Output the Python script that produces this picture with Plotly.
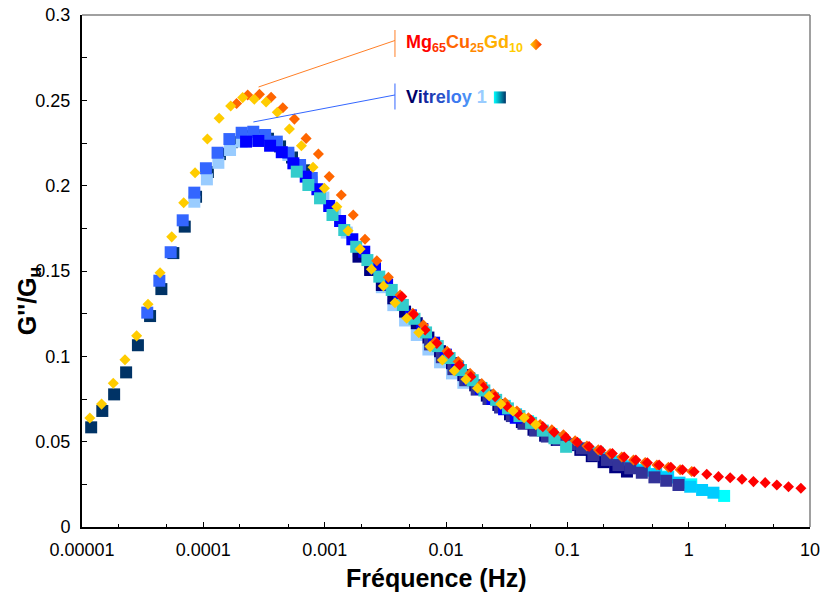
import plotly.graph_objects as go

# ---------------- data ----------------
# Mg65Cu25Gd10 - gold diamonds
mg_gold_f = [1.16e-5, 1.45e-5, 1.81e-5, 2.26e-5, 2.82e-5, 3.50e-5, 4.40e-5, 5.49e-5, 6.89e-5, 8.55e-5,
             1.08e-4, 1.35e-4, 1.68e-4, 2.11e-4, 2.63e-4, 3.29e-4, 4.07e-4, 5.12e-4, 6.43e-4, 8.02e-4,
             9.95e-4, 1.26e-3, 1.56e-3, 1.96e-3, 2.43e-3, 3.05e-3, 3.80e-3, 4.75e-3, 5.97e-3, 7.39e-3,
             9.34e-3, 1.17e-2, 1.46e-2, 1.82e-2, 2.27e-2, 2.83e-2, 3.56e-2, 4.41e-2, 5.50e-2]
mg_gold_g = [0.0639, 0.072, 0.0842, 0.098, 0.112, 0.1305, 0.149, 0.170, 0.190, 0.2076,
             0.2273, 0.2395, 0.2467, 0.2516, 0.2506, 0.249, 0.243, 0.2332, 0.2234, 0.2108,
             0.1985, 0.1877, 0.1736, 0.1629, 0.151, 0.1412, 0.1314, 0.1223, 0.1139, 0.1057,
             0.0978, 0.0916, 0.0865, 0.0813, 0.0768, 0.072, 0.068, 0.064, 0.060]

# Mg65Cu25Gd10 - orange diamonds
mg_orange_f = [1.88e-4, 2.32e-4, 2.90e-4, 3.62e-4, 4.52e-4, 5.63e-4, 7.03e-4, 8.88e-4, 1.09e-3, 1.37e-3,
               1.72e-3, 2.15e-3, 2.69e-3, 3.35e-3, 4.19e-3, 5.33e-3, 6.51e-3, 8.13e-3, 1.02e-2, 1.26e-2,
               1.58e-2, 1.97e-2, 2.46e-2, 3.07e-2, 3.84e-2, 4.78e-2, 5.97e-2, 7.45e-2, 9.29e-2, 0.116,
               0.145, 0.180, 0.225, 0.281, 0.351, 0.438, 0.547, 0.681, 0.851, 1.06]
mg_orange_g = [0.2482, 0.2531, 0.2535, 0.2518, 0.2457, 0.239, 0.2277, 0.2185, 0.2053, 0.1945,
               0.1828, 0.1686, 0.156, 0.1463, 0.1359, 0.1252, 0.1184, 0.1086, 0.103, 0.097,
               0.090, 0.084, 0.078, 0.073, 0.068, 0.064, 0.060, 0.057, 0.054, 0.0505,
               0.0475, 0.0452, 0.0430, 0.0410, 0.0393, 0.0378, 0.0363, 0.0350, 0.0336, 0.0325]

# Mg65Cu25Gd10 - red diamonds
mg_red_f = [4.32e-3, 5.39e-3, 6.73e-3, 8.40e-3, 1.05e-2, 1.29e-2, 1.60e-2, 2.03e-2, 2.54e-2, 3.21e-2,
            4.01e-2, 5.00e-2, 6.28e-2, 7.78e-2, 9.72e-2, 0.121, 0.151, 0.189, 0.235, 0.294,
            0.367, 0.457, 0.571, 0.713, 0.889, 1.11, 1.41, 1.76, 2.20, 2.75,
            3.42, 4.27, 5.33, 6.65, 8.41]
mg_red_g = [0.135, 0.1245, 0.1154, 0.1076, 0.1017, 0.0949, 0.0881, 0.0819, 0.0763, 0.0705,
            0.0656, 0.0627, 0.0588, 0.0555, 0.0525, 0.0497, 0.0472, 0.0450, 0.0430, 0.0410,
            0.0393, 0.0377, 0.0363, 0.0350, 0.0336, 0.0324, 0.0309, 0.0295, 0.0289, 0.028,
            0.0266, 0.026, 0.0246, 0.0236, 0.0227]

# Vitreloy 1 - dark navy squares
vit_darknavy_f = [1.19e-5, 1.47e-5, 1.84e-5, 2.31e-5, 2.89e-5, 3.64e-5, 4.51e-5, 5.66e-5, 7.03e-5, 8.71e-5,
                  1.09e-4, 1.37e-4, 1.72e-4, 2.17e-4, 2.72e-4, 3.41e-4, 4.29e-4, 5.38e-4, 6.76e-4]
vit_darknavy_g = [0.0584, 0.068, 0.0777, 0.0906, 0.1065, 0.1236, 0.1394, 0.1605, 0.176, 0.1935,
                  0.208, 0.2185, 0.2255, 0.229, 0.229, 0.2275, 0.223, 0.2165, 0.209]

# Vitreloy 1 - light blue squares
vit_lightblue_f = [8.43e-5, 1.07e-4, 1.33e-4, 1.66e-4, 2.07e-4, 2.58e-4, 3.23e-4, 4.03e-4, 5.02e-4, 6.27e-4,
                   7.83e-4, 9.75e-4, 1.22e-3, 1.52e-3, 1.90e-3, 2.37e-3, 2.96e-3, 3.68e-3, 4.60e-3, 5.74e-3,
                   7.16e-3, 8.93e-3, 1.12e-2, 1.39e-2]
vit_lightblue_g = [0.1906, 0.2037, 0.2134, 0.2209, 0.2258, 0.2275, 0.227, 0.224, 0.218, 0.2105,
                   0.202, 0.193, 0.183, 0.1725, 0.1615, 0.151, 0.1405, 0.130, 0.121, 0.1125,
                   0.104, 0.0965, 0.090, 0.0845]

# Vitreloy 1 - royal blue squares
vit_royal_f = [3.45e-5, 4.34e-5, 5.38e-5, 6.76e-5, 8.43e-5, 1.05e-4, 1.31e-4, 1.64e-4, 2.07e-4, 2.58e-4,
               3.23e-4, 4.03e-4, 5.02e-4, 6.27e-4, 7.83e-4]
vit_royal_g = [0.1256, 0.1443, 0.161, 0.1797, 0.1959, 0.2102, 0.2193, 0.2273, 0.231, 0.2316,
               0.2297, 0.2258, 0.2193, 0.2121, 0.2045]

# Vitreloy 1 - cyan squares
vit_cyan_f = [1.26e-2, 1.96e-2, 3.05e-2, 4.75e-2, 7.40e-2, 0.115, 0.179, 0.279, 0.435, 0.678, 1.05, 1.96]
vit_cyan_g = [0.094, 0.0815, 0.071, 0.062, 0.0545, 0.0485, 0.0435, 0.0385, 0.0335, 0.0295, 0.025, 0.0182]

# Vitreloy 1 - sky blue squares
vit_sky_f = [1.00e-2, 1.25e-2, 1.56e-2, 1.95e-2, 2.43e-2, 3.03e-2, 3.78e-2, 4.72e-2, 5.89e-2, 7.35e-2,
             9.18e-2, 0.115, 0.143, 0.178, 0.222, 0.278, 0.347, 0.432, 0.540, 0.674,
             0.840, 1.03, 1.29, 1.60]
vit_sky_g = [0.1005, 0.0935, 0.087, 0.081, 0.0755, 0.0705, 0.066, 0.0615, 0.0575, 0.054,
             0.051, 0.048, 0.0455, 0.043, 0.0405, 0.038, 0.0355, 0.033, 0.031, 0.029,
             0.026, 0.0236, 0.0217, 0.0201]

# Vitreloy 1 - navy squares
vit_navy_f = [1.90e-3, 2.37e-3, 2.96e-3, 3.68e-3, 4.60e-3, 5.74e-3, 7.16e-3, 8.93e-3, 1.12e-2, 1.39e-2,
              1.74e-2, 2.17e-2, 2.70e-2, 3.37e-2, 4.22e-2, 5.26e-2, 6.56e-2, 8.18e-2, 0.102, 0.128,
              0.159, 0.199, 0.248, 0.310]
vit_navy_g = [0.1584, 0.1506, 0.1418, 0.134, 0.1262, 0.1194, 0.111, 0.103, 0.096, 0.089,
              0.083, 0.077, 0.0715, 0.066, 0.0615, 0.057, 0.0535, 0.051, 0.048, 0.0452,
              0.0415, 0.038, 0.035, 0.0325]

# Vitreloy 1 - dark slate blue squares
vit_slate_f = [7.39e-3, 9.24e-3, 1.15e-2, 1.44e-2, 1.79e-2, 2.24e-2, 2.79e-2, 3.49e-2, 4.35e-2, 5.43e-2,
               6.78e-2, 8.45e-2, 0.105, 0.132, 0.164, 0.212, 0.264, 0.330, 0.411, 0.522,
               0.653, 0.824]
vit_slate_g = [0.107, 0.0995, 0.0925, 0.086, 0.0805, 0.075, 0.070, 0.065, 0.0605, 0.0565,
               0.053, 0.051, 0.0485, 0.0461, 0.0422, 0.0393, 0.0363, 0.0344, 0.0318, 0.0291,
               0.0271, 0.0246]

# Vitreloy 1 - blue squares
vit_blue_f = [2.25e-4, 2.84e-4, 3.55e-4, 4.43e-4, 5.52e-4, 6.98e-4, 8.71e-4, 1.09e-3, 1.34e-3, 1.69e-3,
              2.12e-3, 2.60e-3, 3.27e-3, 4.10e-3, 5.13e-3, 6.38e-3, 7.98e-3, 9.96e-3, 1.24e-2, 1.55e-2,
              1.94e-2, 2.42e-2, 3.01e-2, 3.76e-2]
vit_blue_g = [0.2258, 0.2262, 0.2234, 0.2196, 0.2131, 0.2053, 0.1979, 0.1881, 0.1793, 0.1686,
              0.1613, 0.1516, 0.142, 0.133, 0.124, 0.116, 0.108, 0.101, 0.094, 0.087,
              0.081, 0.075, 0.069, 0.064]

# Vitreloy 1 - turquoise squares
vit_turq_f = [5.89e-4, 7.34e-4, 9.16e-4, 1.16e-3, 1.45e-3, 1.82e-3, 2.25e-3, 2.82e-3, 3.57e-3, 4.41e-3,
              5.50e-3, 6.85e-3, 8.55e-3, 1.07e-2, 1.33e-2, 1.66e-2, 2.07e-2, 2.59e-2, 3.24e-2, 4.03e-2,
              5.03e-2, 6.28e-2, 7.83e-2, 9.77e-2]
vit_turq_g = [0.2082, 0.2004, 0.1926, 0.1828, 0.174, 0.1642, 0.1564, 0.1467, 0.1389, 0.1301,
              0.122, 0.114, 0.106, 0.099, 0.092, 0.086, 0.080, 0.0745, 0.0695, 0.065,
              0.061, 0.0565, 0.052, 0.047]

x_tick_vals = [1e-5, 1e-4, 1e-3, 1e-2, 1e-1, 1, 10]
x_tick_text = ["0.00001", "0.0001", "0.001", "0.01", "0.1", "1", "10"]
y_tick_vals = [0, 0.05, 0.1, 0.15, 0.2, 0.25, 0.3]
y_tick_text = ["0", "0.05", "0.1", "0.15", "0.2", "0.25", "0.3"]

# ---------------- figure ----------------
FONT = "Arial, 'Liberation Sans', sans-serif"
fig = go.Figure()

SQ = 12
DI = 8.5
square_series = [
    (vit_darknavy_f, vit_darknavy_g, "#003366"),
    (vit_lightblue_f, vit_lightblue_g, "#99CCFF"),
    (vit_royal_f, vit_royal_g, "#3366FF"),
    (vit_cyan_f, vit_cyan_g, "#00FFFF"),
    (vit_sky_f, vit_sky_g, "#00CCFF"),
    (vit_navy_f, vit_navy_g, "#000080"),
    (vit_slate_f, vit_slate_g, "#333399"),
    (vit_blue_f, vit_blue_g, "#0000FF"),
    (vit_turq_f, vit_turq_g, "#33CCCC"),
]
for fx, gy, col in square_series:
    fig.add_trace(go.Scatter(x=fx, y=gy, mode="markers",
                             marker=dict(symbol="square", size=SQ, color=col, line=dict(width=0)),
                             showlegend=False, hoverinfo="skip"))

diamond_series = [
    (mg_orange_f, mg_orange_g, "#FF6600"),
    (mg_red_f, mg_red_g, "#FF0000"),
    (mg_gold_f, mg_gold_g, "#FFCC00"),
]
for fx, gy, col in diamond_series:
    fig.add_trace(go.Scatter(x=fx, y=gy, mode="markers",
                             marker=dict(symbol="diamond", size=DI, color=col, line=dict(width=0)),
                             showlegend=False, hoverinfo="skip"))

# legend-like key markers (on an overlay 0..1 axis)
fig.add_trace(go.Scatter(x=[0.6236], y=[0.9424], xaxis="x2", yaxis="y2", mode="markers",
                         marker=dict(symbol="diamond", size=9, color="#FFCC00",
                                     gradient=dict(type="horizontal", color="#FF3300"),
                                     line=dict(width=0)),
                         showlegend=False, hoverinfo="skip"))
fig.add_trace(go.Scatter(x=[0.574], y=[0.839], xaxis="x2", yaxis="y2", mode="markers",
                         marker=dict(symbol="square", size=12, color="#00FFFF",
                                     gradient=dict(type="horizontal", color="#003366"),
                                     line=dict(width=0)),
                         showlegend=False, hoverinfo="skip"))

fig.update_layout(
    width=823, height=594,
    margin=dict(l=82, r=13, t=15, b=67, autoexpand=False),
    paper_bgcolor="white", plot_bgcolor="white",
    font=dict(family=FONT, color="black"),
    xaxis=dict(type="log", range=[-5, 1], tickvals=x_tick_vals, ticktext=x_tick_text,
               ticks="inside", ticklen=5, tickwidth=1, tickcolor="black",
               minor=dict(ticks="inside", ticklen=3, tickcolor="black", showgrid=False),
               showline=True, linecolor="black", linewidth=2, showgrid=False, zeroline=False,
               tickfont=dict(size=18, family=FONT), ticklabelstandoff=5, automargin=False,
               ticklabeloverflow="allow"),
    yaxis=dict(range=[0, 0.3], tickvals=y_tick_vals, ticktext=y_tick_text,
               ticks="inside", ticklen=5, tickwidth=1, tickcolor="black",
               minor=dict(dtick=0.025, tick0=0, ticks="inside", ticklen=5, tickcolor="black", showgrid=False),
               showline=True, linecolor="black", linewidth=2, showgrid=False, zeroline=False,
               tickfont=dict(size=18, family=FONT), ticklabelstandoff=6, automargin=False,
               ticklabeloverflow="allow"),
    xaxis2=dict(range=[0, 1], overlaying="x", visible=False, fixedrange=True),
    yaxis2=dict(range=[0, 1], overlaying="y", visible=False, fixedrange=True),
)

# gray frame on top and right
fig.add_shape(type="line", xref="paper", yref="paper", x0=0, x1=1, y0=1, y1=1,
              line=dict(color="#808080", width=1.5), layer="above")
fig.add_shape(type="line", xref="paper", yref="paper", x0=1, x1=1, y0=0, y1=1,
              line=dict(color="#808080", width=1.5), layer="above")

# leader lines
fig.add_shape(type="line", xref="paper", yref="paper", x0=0.2425, y0=0.8594, x1=0.4299, y1=0.9502,
              line=dict(color="#FF7F27", width=1))
fig.add_shape(type="line", xref="paper", yref="paper", x0=0.4299, y0=0.9707, x1=0.4299, y1=0.918,
              line=dict(color="#FF7F27", width=1))
fig.add_shape(type="line", xref="paper", yref="paper", x0=0.2354, y0=0.7911, x1=0.4299, y1=0.8438,
              line=dict(color="#3366FF", width=1))
fig.add_shape(type="line", xref="paper", yref="paper", x0=0.4299, y0=0.8662, x1=0.4299, y1=0.8154,
              line=dict(color="#3366FF", width=1))

mg_text = ("<b><span style='color:#FF0000'>Mg</span>"
           "<sub><span style='color:#FF3300'>65</span></sub>"
           "<span style='color:#FF6600'>Cu</span>"
           "<sub><span style='color:#FF8800'>25</span></sub>"
           "<span style='color:#FFB000'>Gd</span>"
           "<sub><span style='color:#FFCC00'>10</span></sub></b>")
vit_chars = [("V", "#000066"), ("i", "#0A1A8C"), ("t", "#1428A0"), ("r", "#1E3CB4"),
             ("e", "#2850C8"), ("l", "#3264DC"), ("o", "#3C7AF0"), ("y", "#4A90F5"),
             ("\u00a0", "#FFFFFF"), ("1", "#99CCFF")]
vit_text = "<b>" + "".join(f"<span style='color:{c}'>{ch}</span>" for ch, c in vit_chars) + "</b>"

fig.add_annotation(text=mg_text, xref="paper", yref="paper", x=0.4423, y=0.945,
                   xanchor="left", yanchor="middle", showarrow=False, font=dict(size=18, family=FONT))
fig.add_annotation(text=vit_text, xref="paper", yref="paper", x=0.4423, y=0.8398,
                   xanchor="left", yanchor="middle", showarrow=False, font=dict(size=18, family=FONT))

# axis titles
fig.add_annotation(text="<b>Fréquence (Hz)</b>", xref="paper", yref="paper", x=0.4876, y=-0.0996,
                   xanchor="center", yanchor="middle", showarrow=False, font=dict(size=25, family=FONT))
fig.add_annotation(text="<b>G''/G<sub>u</sub></b>", xref="paper", yref="paper", x=-0.0728, y=0.441,
                   xanchor="center", yanchor="middle", textangle=-90, showarrow=False,
                   font=dict(size=25, family=FONT))

# remove the default 8px page margin so the 823x594 figure fills the window exactly
fig.write_html("out.html", config={"displayModeBar": False},
               post_script="document.body.style.margin='0';")
